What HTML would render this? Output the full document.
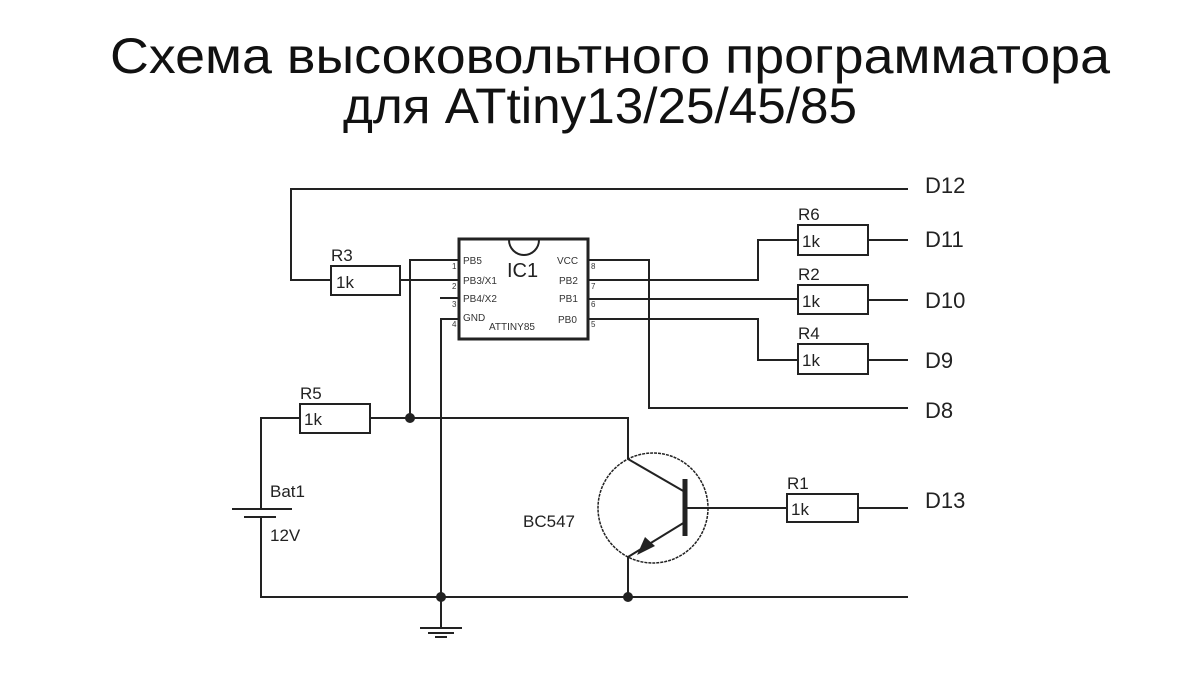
<!DOCTYPE html>
<html><head><meta charset="utf-8"><style>
html,body{margin:0;padding:0;background:#fff;width:1200px;height:675px;overflow:hidden}
svg{display:block}
</style></head><body>
<svg width="1200" height="675" viewBox="0 0 1200 675" xmlns="http://www.w3.org/2000/svg" font-family="Liberation Sans, DejaVu Sans, sans-serif">
<text x="610" y="73" font-size="50" text-anchor="middle" fill="#111" textLength="1000" lengthAdjust="spacingAndGlyphs">Схема высоковольтного программатора</text>
<text x="600" y="123" font-size="50" text-anchor="middle" fill="#111" textLength="514" lengthAdjust="spacingAndGlyphs">для ATtiny13/25/45/85</text>
<g stroke="#222" stroke-width="2" fill="none">
<polyline points="908,189 291,189 291,280 331,280"/>
<rect x="331" y="266" width="69" height="29" fill="#fff"/>
<line x1="400" y1="280" x2="459" y2="280"/>
<polyline points="459,260 410,260 410,418"/>
<line x1="440" y1="298" x2="459" y2="298"/>
<polyline points="459,319 441,319 441,597"/>
<rect x="459" y="239" width="129" height="100" stroke-width="3"/>
<path d="M509,240 A15,15 0 0 0 539,240"/>
<polyline points="588,260 649,260 649,408 908,408"/>
<polyline points="588,280 758,280 758,240 798,240"/>
<rect x="798" y="225" width="70" height="30" fill="#fff"/>
<line x1="868" y1="240" x2="908" y2="240"/>
<line x1="588" y1="299" x2="798" y2="299"/>
<rect x="798" y="285" width="70" height="29" fill="#fff"/>
<line x1="868" y1="300" x2="908" y2="300"/>
<polyline points="588,319 758,319 758,360 798,360"/>
<rect x="798" y="344" width="70" height="30" fill="#fff"/>
<line x1="868" y1="360" x2="908" y2="360"/>
<polyline points="300,418 261,418 261,509"/>
<rect x="300" y="404" width="70" height="29" fill="#fff"/>
<polyline points="370,418 628,418 628,459"/>
<line x1="232" y1="509" x2="292" y2="509"/>
<line x1="244" y1="517" x2="276" y2="517"/>
<polyline points="261,517 261,597 908,597"/>
<line x1="441" y1="597" x2="441" y2="628"/>
<line x1="420" y1="628" x2="462" y2="628"/>
<line x1="428" y1="633" x2="454" y2="633"/>
<line x1="435" y1="637" x2="447" y2="637"/>
<circle cx="653" cy="508" r="55" stroke-width="1.5" stroke-dasharray="3,1"/>
<line x1="685" y1="479" x2="685" y2="536" stroke-width="5"/>
<line x1="628" y1="459" x2="685" y2="492"/>
<line x1="685" y1="522" x2="628" y2="557"/>
<line x1="628" y1="557" x2="628" y2="597"/>
<polyline points="685,508 787,508"/>
<rect x="787" y="494" width="71" height="28" fill="#fff"/>
<line x1="858" y1="508" x2="908" y2="508"/>
</g>
<polygon points="637,555 645,537 655,546" fill="#222"/>
<g fill="#222">
<circle cx="410" cy="418" r="5"/><circle cx="441" cy="597" r="5"/><circle cx="628" cy="597" r="5"/>
</g>
<g fill="#222" font-size="17">
<text x="331" y="261">R3</text><text x="336" y="288">1k</text>
<text x="300" y="399">R5</text><text x="304" y="425">1k</text>
<text x="798" y="220">R6</text><text x="802" y="247">1k</text>
<text x="798" y="280">R2</text><text x="802" y="307">1k</text>
<text x="798" y="339">R4</text><text x="802" y="366">1k</text>
<text x="787" y="489">R1</text><text x="791" y="515">1k</text>
<text x="270" y="497">Bat1</text><text x="270" y="541">12V</text>
<text x="523" y="527">BC547</text>
<text x="507" y="277" font-size="20">IC1</text>
</g>
<g fill="#222" font-size="22">
<text x="925" y="193">D12</text><text x="925" y="247">D11</text><text x="925" y="308">D10</text>
<text x="925" y="368">D9</text><text x="925" y="418">D8</text><text x="925" y="508">D13</text>
</g>
<g fill="#333" font-size="10">
<text x="463" y="264">PB5</text><text x="463" y="284">PB3/X1</text><text x="463" y="302">PB4/X2</text>
<text x="463" y="321">GND</text><text x="489" y="330">ATTINY85</text>
<text x="557" y="264">VCC</text><text x="559" y="284">PB2</text><text x="559" y="302">PB1</text><text x="558" y="323">PB0</text>
<text x="452" y="269" font-size="8">1</text><text x="452" y="289" font-size="8">2</text>
<text x="452" y="307" font-size="8">3</text><text x="452" y="327" font-size="8">4</text>
<text x="591" y="269" font-size="8">8</text><text x="591" y="289" font-size="8">7</text>
<text x="591" y="307" font-size="8">6</text><text x="591" y="327" font-size="8">5</text>
</g>
</svg>
</body></html>
